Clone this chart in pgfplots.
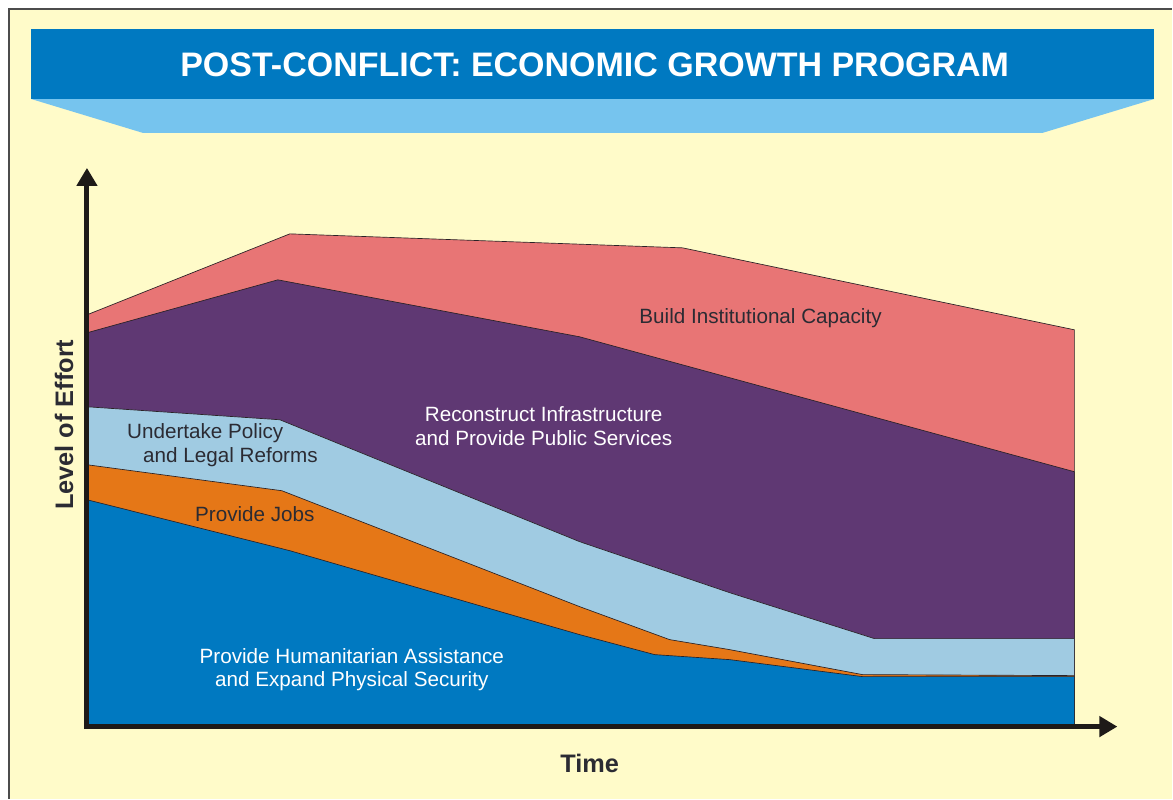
\documentclass[border=0pt]{standalone}
\usepackage{fontspec}
\setmainfont{Liberation Sans}
\usepackage{pgfplots}
\pgfplotsset{compat=1.18}
\usetikzlibrary{arrows.meta}

\definecolor{paper}{HTML}{FFFBC9}
\definecolor{bannerdark}{HTML}{0079C1}
\definecolor{bannerlight}{HTML}{76C4EE}
\definecolor{instred}{HTML}{E87575}
\definecolor{infrapurple}{HTML}{5F3873}
\definecolor{policyblue}{HTML}{A0CBE2}
\definecolor{jobsorange}{HTML}{E57717}
\definecolor{humblue}{HTML}{0079C1}
\definecolor{edge}{HTML}{2A2226}
\definecolor{axisblack}{HTML}{1E1A18}
\definecolor{labeldark}{HTML}{2B2B33}

\begin{document}
\begin{tikzpicture}[x=0.75pt,y=0.75pt]
  % page and banner (1 unit = 1 px of the original)
  \fill[white] (0,0) rectangle (1173,799);
  \fill[paper] (9,0) rectangle (1173,790);
  \draw[black!70, line width=1pt] (9,0) -- (9,790) -- (1173,790);
  \fill[bannerlight] (31,700) -- (1155,700) -- (1043,666) -- (143,666) -- cycle;
  \fill[bannerdark] (31,770) rectangle (1155,700);
  \node[white, anchor=base, font=\bfseries\fontsize{25.5}{30}\selectfont]
    at (595,722) {POST-CONFLICT: ECONOMIC GROWTH PROGRAM};
  \coordinate (org) at (87,72);

  \begin{axis}[
      at={(org)}, anchor=south west,
      scale only axis,
      width=773.25pt, height=419.25pt,
      xmin=0, xmax=1031,
      ymin=0, ymax=559,
      hide axis,
      clip=false,
      every axis plot/.append style={draw=edge, line width=0.5pt},
    ]
    % Build Institutional Capacity
    \addplot[fill=instred] coordinates {
      (0,412) (203,493) (596,479) (988,397)
    } \closedcycle;
    % Reconstruct Infrastructure
    \addplot[fill=infrapurple] coordinates {
      (0,394) (191,447) (493,390) (988,255)
    } \closedcycle;
    % Undertake Policy and Legal Reforms
    \addplot[fill=policyblue] coordinates {
      (0,320) (193,307) (493,185) (643,134) (788,88) (988,88)
    } \closedcycle;
    % Provide Jobs
    \addplot[fill=jobsorange] coordinates {
      (0,262) (195,236) (493,120) (583,87) (643,77) (776,52) (988,51)
    } \closedcycle;
    % Humanitarian Assistance and Physical Security
    \addplot[fill=humblue] coordinates {
      (0,227) (203,176) (493,92) (568,72) (643,67) (776,50) (988,50)
    } \closedcycle;

    % axes with arrows
    \draw[axisblack, line width=3.75pt, -{Triangle[width=15pt,length=13.5pt]}]
      (axis cs:-2.5,0) -- (axis cs:1031,0);
    \draw[axisblack, line width=3.75pt, -{Triangle[width=15pt,length=13.5pt]}]
      (axis cs:0,-2.5) -- (axis cs:0,559);

    % layer labels
    \node[labeldark, font=\fontsize{15.5}{18}\selectfont]
      at (axis cs:674,409) {Build Institutional Capacity};
    \node[white, align=center, font=\fontsize{15.5}{18}\selectfont]
      at (axis cs:457,301) {Reconstruct Infrastructure\\and Provide Public Services};
    \node[labeldark, anchor=west, inner sep=0pt, font=\fontsize{15.5}{18}\selectfont]
      at (axis cs:40,294) {Undertake Policy};
    \node[labeldark, anchor=west, inner sep=0pt, font=\fontsize{15.5}{18}\selectfont]
      at (axis cs:56,270) {and Legal Reforms};
    \node[labeldark, font=\fontsize{15.5}{18}\selectfont]
      at (axis cs:168,213) {Provide Jobs};
    \node[white, align=center, font=\fontsize{15.5}{17.5}\selectfont]
      at (axis cs:265,57) {Provide Humanitarian Assistance\\and Expand Physical Security};

    % axis titles
    \node[labeldark, rotate=90, font=\bfseries\fontsize{19}{22}\selectfont]
      at (axis cs:-23,302) {Level of Effort};
    \node[labeldark, font=\bfseries\fontsize{19}{22}\selectfont]
      at (axis cs:503,-37) {Time};
  \end{axis}
\end{tikzpicture}
\end{document}
